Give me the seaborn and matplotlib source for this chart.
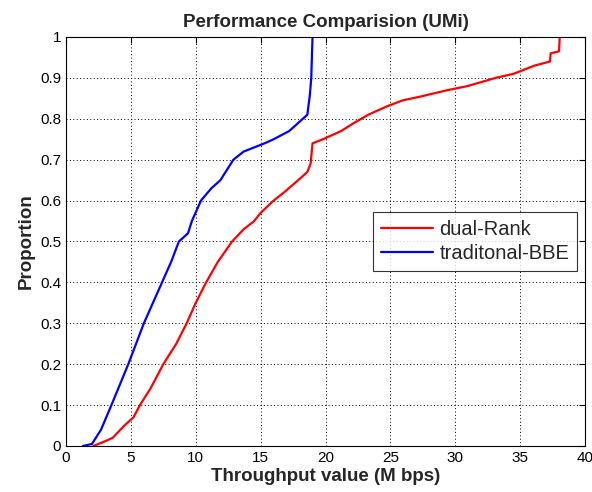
import matplotlib
matplotlib.use("Agg")
import matplotlib.pyplot as plt
import pandas as pd
import seaborn as sns

# throughput (M bps) vs cumulative proportion
dual_x = [2.1, 2.9, 3.6, 4.5, 5.2, 5.7, 6.1, 6.5, 7.5, 8.5, 9.3, 10.0, 10.8, 11.7, 12.8,
          13.7, 14.5, 15.0, 16.0, 16.8, 17.9, 18.6, 18.85, 19.0, 19.8, 21.2, 22.2, 23.3,
          24.7, 25.95, 27.4, 29.4, 30.95, 33.1, 34.5, 36.1, 37.3, 37.35, 38.0, 38.05]
dual_y = [0.0, 0.01, 0.02, 0.05, 0.07, 0.10, 0.12, 0.14, 0.20, 0.25, 0.30, 0.35, 0.40, 0.45, 0.50,
          0.53, 0.55, 0.57, 0.60, 0.62, 0.65, 0.67, 0.69, 0.74, 0.75, 0.77, 0.79, 0.81,
          0.83, 0.845, 0.855, 0.87, 0.88, 0.90, 0.91, 0.93, 0.94, 0.96, 0.965, 1.0]

bbe_x = [1.3, 2.0, 2.7, 3.5, 4.8, 6.0, 6.7, 7.4, 8.1, 8.7, 9.4, 9.7, 10.4, 11.2, 11.9,
         12.9, 13.7, 14.5, 15.3, 16.0, 17.2, 17.9, 18.6, 18.8, 18.9, 19.0]
bbe_y = [0.0, 0.005, 0.04, 0.10, 0.20, 0.30, 0.35, 0.40, 0.45, 0.50, 0.52, 0.55, 0.60, 0.63, 0.65,
         0.70, 0.72, 0.73, 0.74, 0.75, 0.77, 0.79, 0.81, 0.86, 0.90, 1.0]

series_names = ["dual-Rank", "traditonal-BBE"]

df = pd.concat([
    pd.DataFrame({"x": dual_x, "y": dual_y, "series": series_names[0]}),
    pd.DataFrame({"x": bbe_x, "y": bbe_y, "series": series_names[1]}),
])

sns.set_style("white")
plt.rcParams["font.family"] = ["Liberation Sans", "DejaVu Sans"]

fig = plt.figure(figsize=(5.92, 4.92), dpi=100)
ax = fig.add_axes([0.1115, 0.0935, 0.8767, 0.8313])

sns.lineplot(data=df, x="x", y="y", hue="series", estimator=None, sort=False,
             palette={"dual-Rank": "#ff0000", "traditonal-BBE": "#0000ff"},
             linewidth=1.6, ax=ax)

ax.set_xlim(0, 40)
ax.set_ylim(0, 1)
ax.set_xticks(range(0, 41, 5))
ax.set_yticks([i / 10 for i in range(11)])
ax.set_yticklabels(["0"] + [f"{i / 10:.1f}" for i in range(1, 10)] + ["1"])
ax.grid(True, linestyle=(0, (1, 2.5)), color="black", linewidth=0.7)
ax.tick_params(direction="in", top=True, right=True, length=4, labelsize=11, colors="black")
for s in ax.spines.values():
    s.set_color("black")
    s.set_linewidth(0.8)

ax.set_xlabel("Throughput value (M bps)", fontsize=13.5, fontweight="bold", labelpad=2)
ax.set_ylabel("Proportion", fontsize=13.5, fontweight="bold", labelpad=4)
ax.set_title("Performance Comparision (UMi)", fontsize=13.5, fontweight="bold", pad=7)

leg = ax.legend(loc="upper right", bbox_to_anchor=(0.985, 0.572), fontsize=14.5,
                frameon=True, fancybox=False, edgecolor="black", handlelength=2.6,
                handletextpad=0.3, borderpad=0.4, labelspacing=0.25, borderaxespad=0)
leg.get_frame().set_linewidth(0.8)

fig.savefig("out.png", dpi=100)
